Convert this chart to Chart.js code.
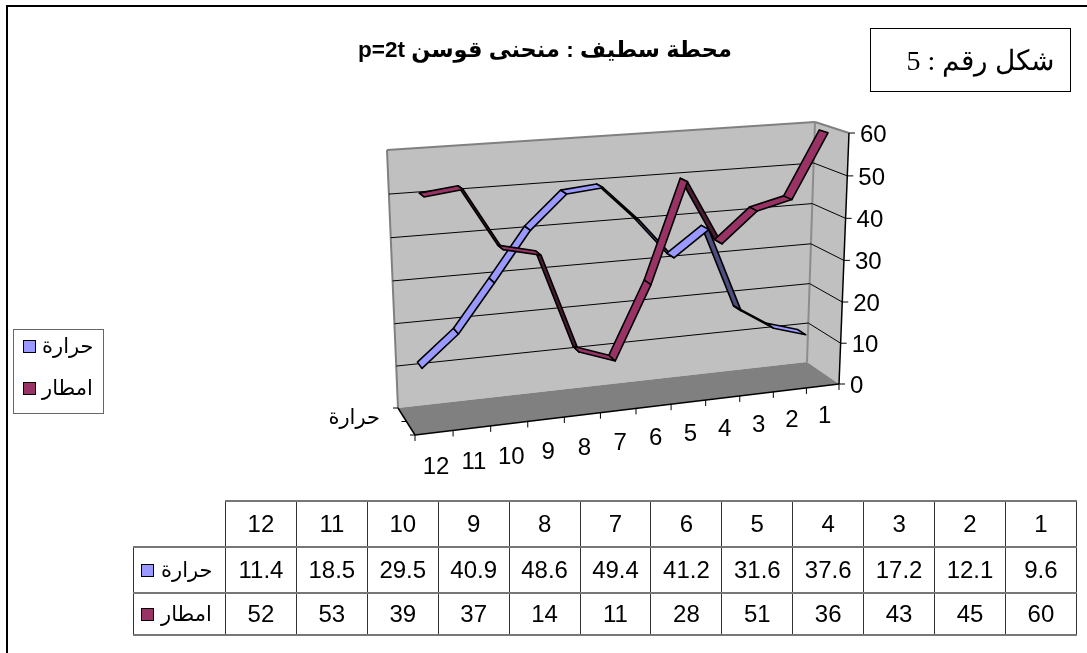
<!DOCTYPE html>
<html lang="ar">
<head>
<meta charset="utf-8">
<title>محطة سطيف</title>
<script src="https://cdn.jsdelivr.net/npm/chart.js@4"></script>
<style>
  html, body { margin: 0; padding: 0; background: #fff; }
  #page { position: relative; width: 1087px; height: 653px; overflow: hidden; font-family: "Liberation Sans", "DejaVu Sans", sans-serif; color: #000; }
  #frame { position: absolute; left: 6px; top: 5px; width: 1090px; height: 660px; border: 2px solid #000; box-sizing: border-box; }
  canvas { position: absolute; left: 0; top: 0; }
  #title { position: absolute; left: 345px; top: 36px; width: 400px; text-align: center; font-size: 22.5px; font-weight: bold; direction: rtl; white-space: nowrap; }
  #figure { position: absolute; left: 870px; top: 28px; width: 201px; height: 64px; box-sizing: border-box; border: 1.5px solid #000; padding-left: 20px; display: flex; align-items: center; justify-content: center; direction: rtl; font-family: "Liberation Serif", "DejaVu Serif", serif; font-size: 28px; white-space: nowrap; }
  #legend { position: absolute; left: 13px; top: 329px; width: 91px; height: 85px; box-sizing: border-box; border: 1px solid #666; font-size: 21px; }
  #legend div { position: absolute; left: 9px; display: flex; align-items: center; gap: 6px; height: 30px; white-space: nowrap; }
  .key { display: inline-block; width: 11px; height: 11px; border: 1.5px solid #000; }
  #table { position: absolute; left: 133px; top: 500px; border-collapse: collapse; table-layout: fixed; width: 943px; font-size: 24px; }
  #table td { border: 1px solid #333; border-top: 2px solid #777; border-bottom: 2px solid #777; text-align: center; padding: 0; overflow: hidden; white-space: nowrap; }
  #table td.blank { border-left: 0; border-top: 0; }
  #table td.name { font-size: 21px; text-align: left; padding-left: 7px; }
  #table td.name span.txt { margin-left: 7px; }
</style>
</head>
<body>
<div id="page">
  <div id="frame"></div>
  <canvas id="chart" width="1087" height="653"></canvas>
  <div id="title">محطة سطيف : منحنى قوسن p=2t</div>
  <div id="figure">شكل رقم : 5</div>
  <div id="legend"></div>
  <table id="table"></table>
</div>
<script>
const months = ["12", "11", "10", "9", "8", "7", "6", "5", "4", "3", "2", "1"];
const heat = [11.4, 18.5, 29.5, 40.9, 48.6, 49.4, 41.2, 31.6, 37.6, 17.2, 12.1, 9.6];
const rain = [52, 53, 39, 37, 14, 11, 28, 51, 36, 43, 45, 60];
const heatName = "حرارة";
const rainName = "امطار";
const heatColor = "#9999ff";
const rainColor = "#993366";

// corners of the box the scales get projected into
const backTL = [387, 150], backTR = [815, 122], backBL = [398, 408], backBR = [807, 362];
const frontTL = [405, 163], frontTR = [849, 133], frontBL = [415, 435], frontBR = [839, 384];

const lerp = (a, b, t) => [a[0] + (b[0] - a[0]) * t, a[1] + (b[1] - a[1]) * t];

// u along the months, v up the values, w from back wall to front edge
const project = (u, v, w) => {
  const uu = u + 0.085 * u * (1 - u);
  const vv = v - 0.03 * v * (1 - v);
  const back = lerp(lerp(backBL, backBR, uu), lerp(backTL, backTR, uu), vv);
  const front = lerp(lerp(frontBL, frontBR, uu), lerp(frontTL, frontTR, uu), vv);
  return lerp(back, front, w);
};

const poly = (ctx, pts, fill, stroke, width) => {
  ctx.beginPath();
  pts.forEach((p, i) => (i ? ctx.lineTo(p[0], p[1]) : ctx.moveTo(p[0], p[1])));
  ctx.closePath();
  if (fill) {
    ctx.fillStyle = fill;
    ctx.fill();
  }
  if (stroke) {
    ctx.strokeStyle = stroke;
    ctx.lineWidth = width;
    ctx.lineJoin = "round";
    ctx.stroke();
  }
};

const line = (ctx, a, b, color, width) => {
  ctx.beginPath();
  ctx.moveTo(a[0], a[1]);
  ctx.lineTo(b[0], b[1]);
  ctx.strokeStyle = color;
  ctx.lineWidth = width;
  ctx.stroke();
};

// walls, floor, gridlines and axis labels
const boxPlugin = {
  id: "box3d",
  beforeDatasetsDraw(chart) {
    const ctx = chart.ctx;
    const area = chart.chartArea;
    const yScale = chart.scales.y;
    const xScale = chart.scales.x;
    ctx.save();

    poly(ctx, [backTL, backTR, backBR, backBL], "#c0c0c0");
    poly(ctx, [backTR, frontTR, frontBR, backBR], "#c0c0c0");
    poly(ctx, [backBL, backBR, frontBR, frontBL], "#808080");

    line(ctx, backBL, backTL, "#808080", 2);
    line(ctx, backTL, backTR, "#808080", 2);
    line(ctx, backTR, backBR, "#8c8c8c", 2);
    line(ctx, backTR, frontTR, "#808080", 2);

    ctx.font = '24px "Liberation Sans", "DejaVu Sans", sans-serif';
    ctx.fillStyle = "#000";

    // value axis: gridline across both walls, tick and label at the front
    ctx.textAlign = "left";
    ctx.textBaseline = "middle";
    yScale.ticks.forEach((tick) => {
      const v = (area.bottom - yScale.getPixelForValue(tick.value)) / area.height;
      const left = project(0, v, 0);
      const corner = project(1, v, 0);
      const end = project(1, v, 1);
      if (tick.value > 0 && tick.value < 60) {
        line(ctx, left, corner, "#000", 1);
        line(ctx, corner, end, "#000", 1);
      }
      line(ctx, end, [end[0] + 6, end[1]], "#000", 1);
      ctx.fillText(tick.label, end[0] + 11, end[1] + 2);
    });

    line(ctx, frontTR, frontBR, "#000", 1.5);
    line(ctx, frontBL, frontBR, "#000", 1.5);
    line(ctx, backBL, frontBL, "#000", 1.5);

    // month ticks along the front edge of the floor
    for (let i = 0; i <= months.length; i++) {
      const p = project(i / months.length, 0, 1);
      line(ctx, p, [p[0], p[1] + 6], "#000", 1);
    }
    ctx.textAlign = "center";
    months.forEach((label, i) => {
      const u = (xScale.getPixelForValue(i) - area.left) / area.width;
      const p = project(u, 0, 1);
      ctx.fillText(label, p[0] + 2, p[1] + 35 - 5 * u);
    });

    // series axis on the left side of the floor
    [0, 0.5, 1].forEach((w) => {
      const p = project(0, 0, w);
      line(ctx, p, [p[0] - 5, p[1]], "#000", 1);
    });
    ctx.textAlign = "right";
    ctx.font = '21px "Liberation Sans", "DejaVu Sans", sans-serif';
    ctx.fillText(heatName, 380, 418);
    ctx.restore();
  },
  // each series is a flat ribbon between two depths, underside in a darker shade
  afterDatasetsDraw(chart) {
    const ctx = chart.ctx;
    const area = chart.chartArea;
    const pieces = [];
    chart.data.datasets.forEach((ds, d) => {
      const pts = chart.getDatasetMeta(d).data.map((el) => ({
        u: (el.x - area.left) / area.width,
        v: (area.bottom - el.y) / area.height,
      }));
      for (let i = 0; i < pts.length - 1; i++) {
        const a = pts[i], b = pts[i + 1];
        const q = [
          project(a.u, a.v, ds.depth[0]),
          project(b.u, b.v, ds.depth[0]),
          project(b.u, b.v, ds.depth[1]),
          project(a.u, a.v, ds.depth[1]),
        ];
        const ax = q[1][0] - q[0][0], ay = q[1][1] - q[0][1];
        const bx = q[3][0] - q[0][0], by = q[3][1] - q[0][1];
        const under = ax * by - ay * bx < 0;
        pieces.push({ q, under, color: under ? ds.underColor : ds.topColor });
      }
    });
    ctx.save();
    pieces.filter((p) => p.under).forEach((p) => poly(ctx, p.q, p.color, "#000", 1.6));
    pieces.filter((p) => !p.under).forEach((p) => poly(ctx, p.q, p.color, "#000", 1.6));
    ctx.restore();
  },
};

new Chart(document.getElementById("chart").getContext("2d"), {
  type: "line",
  data: {
    labels: months,
    datasets: [
      { label: heatName, data: heat, borderWidth: 0, pointRadius: 0, topColor: heatColor, underColor: "#4d4d80", depth: [0.16, 0.42] },
      { label: rainName, data: rain, borderWidth: 0, pointRadius: 0, topColor: rainColor, underColor: "#4d1a33", depth: [0.62, 0.88] },
    ],
  },
  options: {
    responsive: false,
    animation: false,
    layout: { padding: 0 },
    plugins: { legend: { display: false }, tooltip: { enabled: false } },
    scales: {
      x: { display: false, offset: true },
      y: { display: false, min: 0, max: 60, ticks: { stepSize: 10 } },
    },
  },
  plugins: [boxPlugin],
});

// legend box
const legend = document.getElementById("legend");
[[heatName, heatColor, 1], [rainName, rainColor, 43]].forEach((row) => {
  const div = document.createElement("div");
  div.style.top = row[2] + "px";
  div.innerHTML = '<span class="key" style="background:' + row[1] + '"></span><span>' + row[0] + "</span>";
  legend.appendChild(div);
});

// data table under the plot
const table = document.getElementById("table");
let html = '<colgroup><col style="width:92px">' + months.map(() => '<col style="width:70.92px">').join("") + "</colgroup>";
html += '<tr style="height:46px"><td class="blank"></td>' + months.map((m) => "<td>" + m + "</td>").join("") + "</tr>";
const nameCell = (name, color) => '<td class="name"><span class="key" style="background:' + color + '"></span><span class="txt">' + name + "</span></td>";
html += '<tr style="height:46px">' + nameCell(heatName, heatColor) + heat.map((v) => "<td>" + v + "</td>").join("") + "</tr>";
html += '<tr style="height:42px">' + nameCell(rainName, rainColor) + rain.map((v) => "<td>" + v + "</td>").join("") + "</tr>";
table.innerHTML = html;
</script>
</body>
</html>
